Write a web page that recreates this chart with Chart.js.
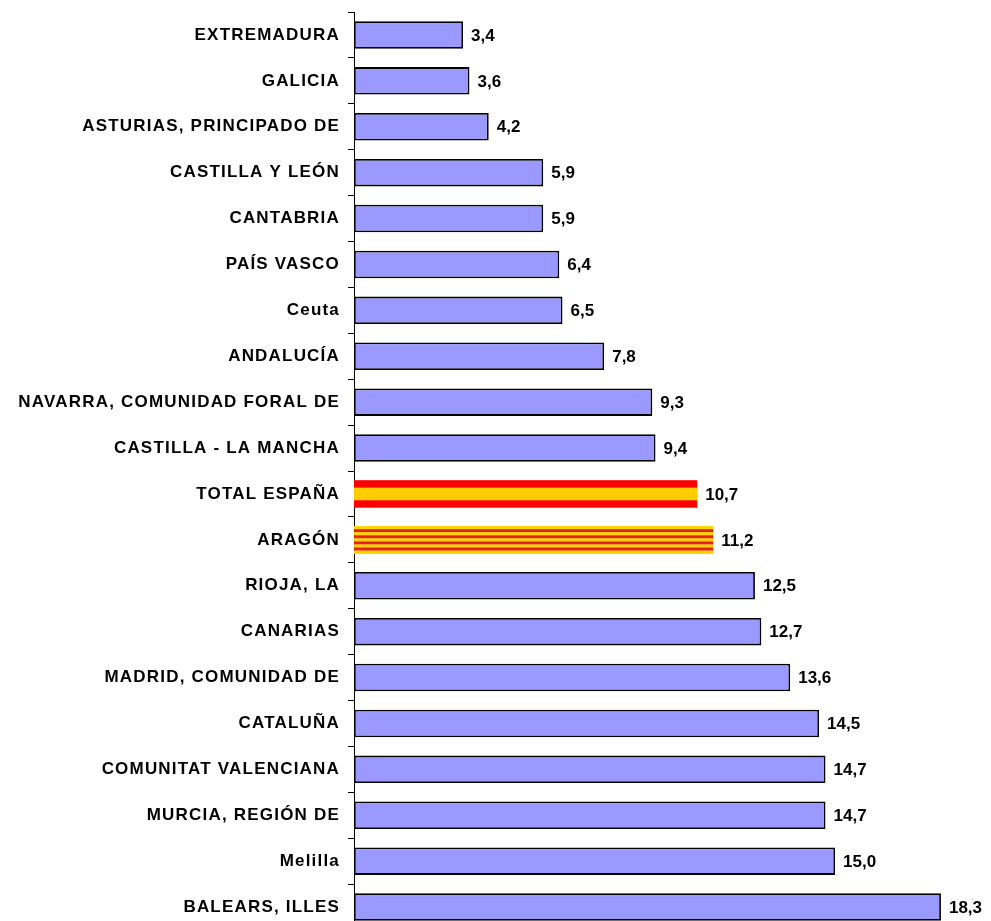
<!DOCTYPE html>
<html>
<head>
<meta charset="utf-8">
<script src="https://cdn.jsdelivr.net/npm/chart.js@4/dist/chart.umd.min.js"></script>
<style>
html,body{margin:0;padding:0;background:#fff;overflow:hidden;}
#wrap{position:relative;width:991px;height:940px;}
</style>
</head>
<body>
<div id="wrap"><canvas id="c"></canvas></div>
<script>
const categories = [
  "EXTREMADURA","GALICIA","ASTURIAS, PRINCIPADO DE","CASTILLA Y LEÓN","CANTABRIA",
  "PAÍS VASCO","Ceuta","ANDALUCÍA","NAVARRA, COMUNIDAD FORAL DE","CASTILLA - LA MANCHA",
  "TOTAL ESPAÑA","ARAGÓN","RIOJA, LA","CANARIAS","MADRID, COMUNIDAD DE",
  "CATALUÑA","COMUNITAT VALENCIANA","MURCIA, REGIÓN DE","Melilla","BALEARS, ILLES"
];
const values = [3.4,3.6,4.2,5.9,5.9,6.4,6.5,7.8,9.3,9.4,10.7,11.2,12.5,12.7,13.6,14.5,14.7,14.7,15.0,18.3];
const spainLabel = "TOTAL ESPAÑA";
const aragonLabel = "ARAGÓN";

const FONT = "'Liberation Sans', Arial, sans-serif";

const barFill = categories.map(c => (c === spainLabel || c === aragonLabel) ? 'rgba(0,0,0,0)' : '#9999FF');
const barBorder = categories.map(c => (c === spainLabel || c === aragonLabel) ? 0 : 1.8);

const stripePlugin = {
  id: 'stripes',
  afterDatasetsDraw(chart) {
    const ctx = chart.ctx;
    const meta = chart.getDatasetMeta(0);
    meta.data.forEach((bar, i) => {
      const cat = categories[i];
      if (cat !== spainLabel && cat !== aragonLabel) return;
      const x0 = bar.base, x1 = bar.x;
      const top = bar.y - bar.height / 2, h = bar.height;
      ctx.save();
      if (cat === spainLabel) {
        ctx.fillStyle = '#FF0000';
        ctx.fillRect(x0, top, x1 - x0, h);
        ctx.fillStyle = '#FFCC00';
        ctx.fillRect(x0, top + h * 0.27, x1 - x0, h * 0.46);
      } else {
        const n = 9, sh = h / n;
        for (let k = 0; k < n; k++) {
          ctx.fillStyle = (k % 2 === 0) ? '#FFD200' : '#E2231A';
          ctx.fillRect(x0, top + k * sh, x1 - x0, sh + 0.3);
        }
      }
      ctx.restore();
    });
  }
};

const labelPlugin = {
  id: 'valueLabels',
  afterDatasetsDraw(chart) {
    const ctx = chart.ctx;
    const meta = chart.getDatasetMeta(0);
    ctx.save();
    ctx.font = "bold 17px " + FONT;
    ctx.fillStyle = '#000';
    ctx.textAlign = 'left';
    ctx.textBaseline = 'middle';
    meta.data.forEach((bar, i) => {
      ctx.fillText(values[i].toFixed(1).replace('.', ','), bar.x + 8, bar.y + 1);
    });
    ctx.restore();
  }
};

const spacingPlugin = {
  id: 'spacing',
  beforeDraw(chart) { chart.ctx.letterSpacing = '1.2px'; },
  beforeDatasetsDraw(chart) { chart.ctx.letterSpacing = '0px'; }
};

new Chart(document.getElementById('c'), {
  type: 'bar',
  data: {
    labels: categories,
    datasets: [{
      data: values,
      backgroundColor: barFill,
      borderColor: '#000',
      borderWidth: barBorder,
      borderSkipped: false,
      barPercentage: 0.6,
      categoryPercentage: 1.0
    }]
  },
  options: {
    indexAxis: 'y',
    responsive: true,
    maintainAspectRatio: false,
    animation: false,
    layout: { padding: { top: 12, bottom: 10, left: 0, right: 0 } },
    plugins: { legend: { display: false }, tooltip: { enabled: false } },
    scales: {
      x: {
        display: false,
        min: 0,
        max: 19.86
      },
      y: {
        afterFit(scale) {
          scale.width = 354;
          scale.paddingTop = 0;
          scale.paddingBottom = 0;
        },
        grid: {
          drawOnChartArea: false,
          drawTicks: true,
          tickLength: 6,
          color: '#000',
          lineWidth: 1
        },
        border: { display: true, color: '#000', width: 1 },
        ticks: {
          color: '#000',
          padding: 8,
          font: { family: FONT, size: 17, weight: 'bold' },
          autoSkip: false
        }
      }
    }
  },
  plugins: [spacingPlugin, stripePlugin, labelPlugin]
});
</script>
</body>
</html>
